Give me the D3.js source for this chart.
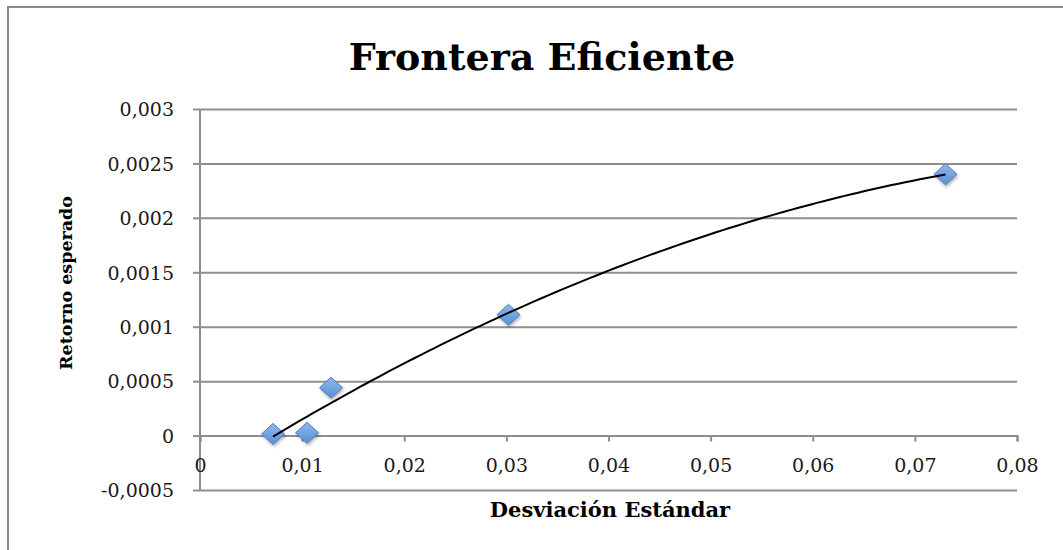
<!DOCTYPE html>
<html>
<head>
<meta charset="utf-8">
<script src="https://cdn.jsdelivr.net/npm/d3@7"></script>
<style>
  html, body { margin: 0; padding: 0; background: #ffffff; }
  svg { display: block; }
</style>
</head>
<body>
<svg id="chart" width="1063" height="550"></svg>
<script>
// ---- Data ----
const stdDev = [0.00715, 0.01048, 0.01283, 0.0302, 0.0730];
const expReturn = [0.000015, 0.000025, 0.00044, 0.00111, 0.00240];
const xTicks = [0, 0.01, 0.02, 0.03, 0.04, 0.05, 0.06, 0.07, 0.08];
const yTicks = [-0.0005, 0, 0.0005, 0.001, 0.0015, 0.002, 0.0025, 0.003];
const titleText = "Frontera Eficiente";
const xTitle = "Desviación Estándar";
const yTitle = "Retorno esperado";

const W = 1063, H = 550;
const svg = d3.select("#chart");
const serif = "'DejaVu Serif', 'Liberation Serif', serif";
const gridColor = "#8e8e8e";

// outer chart frame
svg.append("rect").attr("x", 8).attr("y", 7).attr("width", 1200).attr("height", 700)
  .attr("fill", "#fff").attr("stroke", "#8a8a8a").attr("stroke-width", 2);

const x = d3.scaleLinear().domain([0, 0.08]).range([200, 1017]);
const y = d3.scaleLinear().domain([-0.0005, 0.003]).range([490, 109]);
const fmt = v => (Math.abs(v) < 1e-12 ? "0" : String(+v.toPrecision(6)).replace(".", ","));

// horizontal gridlines + y axis
const yAxis = d3.axisLeft(y).tickValues(yTicks).tickFormat(fmt).tickSize(7).tickPadding(19);
const gy = svg.append("g").attr("transform", `translate(${x(0)},0)`).call(yAxis);
gy.select(".domain").remove();
gy.selectAll(".tick line").attr("stroke", gridColor).attr("stroke-width", 2);
gy.selectAll(".tick").append("line")
  .attr("x1", 0).attr("x2", x(0.08) - x(0)).attr("y1", 0).attr("y2", 0)
  .attr("stroke", gridColor).attr("stroke-width", 2);
gy.selectAll(".tick text").attr("font-family", serif).attr("font-size", 19)
  .attr("fill", "#1a1a1a").attr("dy", "0.36em");
// vertical axis line
svg.append("line").attr("x1", x(0)).attr("x2", x(0)).attr("y1", y(0.003)).attr("y2", y(-0.0005))
  .attr("stroke", gridColor).attr("stroke-width", 2);

// x axis at y = 0
const xAxis = d3.axisBottom(x).tickValues(xTicks).tickFormat(fmt).tickSize(6).tickPadding(17);
const gx = svg.append("g").attr("transform", `translate(0,${y(0)})`).call(xAxis);
gx.select(".domain").attr("stroke", gridColor).attr("stroke-width", 2);
gx.selectAll(".tick line").attr("stroke", gridColor).attr("stroke-width", 2);
gx.selectAll(".tick text").attr("font-family", serif).attr("font-size", 19).attr("fill", "#1a1a1a");

// polynomial (order 2) least-squares trendline computed from the data
function polyFit2(xs, ys) {
  const n = xs.length;
  let S = [0,0,0,0,0], T = [0,0,0];
  for (let i = 0; i < n; i++) {
    let p = 1;
    for (let k = 0; k <= 4; k++) { S[k] += p; if (k <= 2) T[k] += p * ys[i]; p *= xs[i]; }
  }
  const A = [[S[0],S[1],S[2],T[0]],[S[1],S[2],S[3],T[1]],[S[2],S[3],S[4],T[2]]];
  for (let c = 0; c < 3; c++) {
    for (let r = c + 1; r < 3; r++) {
      const f = A[r][c] / A[c][c];
      for (let k = c; k < 4; k++) A[r][k] -= f * A[c][k];
    }
  }
  const coef = [0,0,0];
  for (let r = 2; r >= 0; r--) {
    let s = A[r][3];
    for (let k = r + 1; k < 3; k++) s -= A[r][k] * coef[k];
    coef[r] = s / A[r][r];
  }
  return coef;
}
const coef = polyFit2(stdDev, expReturn);
const xMin = d3.min(stdDev), xMax = d3.max(stdDev);
const trend = d3.range(0, 101).map(i => {
  const xv = xMin + (xMax - xMin) * i / 100;
  return [xv, coef[0] + coef[1] * xv + coef[2] * xv * xv];
});

// markers
const defs = svg.append("defs");
const grad = defs.append("linearGradient").attr("id", "mk").attr("x1", 0).attr("y1", 0).attr("x2", 0).attr("y2", 1);
grad.append("stop").attr("offset", "0%").attr("stop-color", "#8db8ec");
grad.append("stop").attr("offset", "100%").attr("stop-color", "#5b90d6");
const sh = defs.append("filter").attr("id", "shadow").attr("x", "-50%").attr("y", "-50%").attr("width", "200%").attr("height", "200%");
sh.append("feDropShadow").attr("dx", 1).attr("dy", 2).attr("stdDeviation", 1.5).attr("flood-color", "#000").attr("flood-opacity", 0.3);

const diamond = "M0,-10.5 L11.5,0 L0,10.5 L-11.5,0 Z";
svg.append("g").selectAll("path").data(stdDev.map((d, i) => [d, expReturn[i]])).join("path")
  .attr("d", diamond)
  .attr("transform", d => `translate(${x(d[0])},${y(d[1])})`)
  .attr("fill", "url(#mk)").attr("stroke", "#4a7ebb").attr("stroke-width", 1)
  .attr("filter", "url(#shadow)");

svg.append("path").datum(trend)
  .attr("d", d3.line().x(d => x(d[0])).y(d => y(d[1])))
  .attr("fill", "none").attr("stroke", "#000").attr("stroke-width", 2);

// titles
svg.append("text").attr("x", 542).attr("y", 70).attr("text-anchor", "middle")
  .attr("font-family", serif).attr("font-weight", "bold").attr("font-size", 38)
  .attr("fill", "#000").text(titleText);
svg.append("text").attr("x", 610).attr("y", 517).attr("text-anchor", "middle")
  .attr("font-family", serif).attr("font-weight", "bold").attr("font-size", 21)
  .attr("fill", "#000").text(xTitle);
svg.append("text").attr("transform", "translate(72,283) rotate(-90)").attr("text-anchor", "middle")
  .attr("font-family", serif).attr("font-weight", "bold").attr("font-size", 17.5)
  .attr("fill", "#000").text(yTitle);
</script>
</body>
</html>
